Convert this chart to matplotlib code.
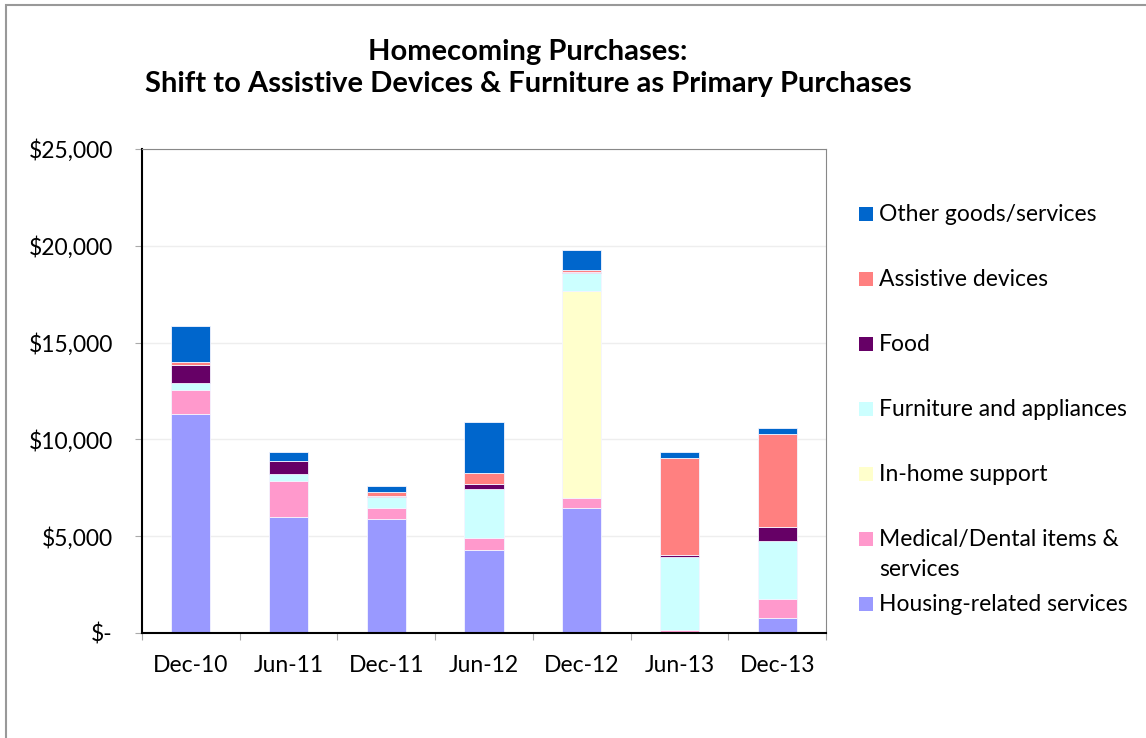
import numpy as np
import matplotlib
matplotlib.use('Agg')
from matplotlib import pyplot as plt
from matplotlib.patches import Rectangle
from matplotlib.ticker import FuncFormatter

plt.rcParams['font.family'] = ['Lato', 'DejaVu Sans']

# Data (USD)
periods = ['Dec-10', 'Jun-11', 'Dec-11', 'Jun-12', 'Dec-12', 'Jun-13', 'Dec-13']
housing = [11300, 6000, 5900, 4300, 6480, 0, 780]
medical = [1230, 1840, 570, 630, 500, 160, 965]
inhome = [0, 0, 0, 0, 10690, 0, 0]
furniture = [380, 360, 570, 2510, 915, 3790, 3000]
food = [930, 690, 30, 260, 70, 100, 720]
assistive = [150, 0, 200, 550, 120, 4990, 4820]
other = [1860, 460, 300, 2650, 1030, 330, 300]

series = [
    ('Housing-related services', housing, '#9999FF'),
    ('Medical/Dental items &\nservices', medical, '#FF99CC'),
    ('In-home support', inhome, '#FFFFCC'),
    ('Furniture and appliances', furniture, '#CCFFFF'),
    ('Food', food, '#660066'),
    ('Assistive devices', assistive, '#FF8080'),
    ('Other goods/services', other, '#0066CC'),
]

W, H = 1146, 738
fig = plt.figure(figsize=(W / 100, H / 100), dpi=100)
ax = fig.add_axes([0.1239, 0.1423, 0.5969, 0.6558])

# outer chart border (top and left visible)
fig.patches.append(Rectangle((6 / W, -0.1), 1.2, 1 - 5 / H + 0.1, transform=fig.transFigure,
                             fill=False, edgecolor='#999999', linewidth=1.5))

x = np.arange(len(periods))
bottom = np.zeros(len(periods))
for name, vals, col in series:
    vals = np.array(vals, dtype=float)
    ax.bar(x, vals, width=0.4, bottom=bottom, color=col, edgecolor='#f4f4ff', linewidth=0.6, label=name)
    bottom += vals

ax.set_xlim(-0.5, len(periods) - 0.5)
ax.set_ylim(0, 25000)
ax.set_yticks(np.arange(0, 25001, 5000))
ax.yaxis.set_major_formatter(FuncFormatter(lambda v, p: '$-' if v == 0 else f'${v:,.0f}'))
ax.grid(axis='y', color='#eeeeee', linewidth=1)
ax.set_axisbelow(True)

ax.set_xticks(np.arange(len(periods) + 1) - 0.5)
ax.set_xticklabels([])
ax.set_xticks(x, minor=True)
ax.set_xticklabels(periods, minor=True)
ax.tick_params(axis='x', which='major', length=5, color='#aaaaaa')
ax.tick_params(axis='x', which='minor', length=0, pad=16, labelsize=16.5)
ax.tick_params(axis='y', length=5, color='#aaaaaa', pad=16, labelsize=16.5)

for s in ['top', 'right']:
    ax.spines[s].set_color('#888888')
for s in ['left', 'bottom']:
    ax.spines[s].set_color('black')
    ax.spines[s].set_linewidth(1.5)

# legend drawn by hand so the two-line entry keeps the even row spacing
for i, (name, vals, col) in enumerate(series[::-1]):
    yc = 214 + 65 * i
    fig.patches.append(Rectangle((859 / W, 1 - (yc + 7) / H), 14 / W, 14 / H,
                                 transform=fig.transFigure, facecolor=col, edgecolor='none'))
    for j, line in enumerate(name.split('\n')):
        fig.text(879 / W, 1 - (yc + 7 + 30 * j) / H, line, ha='left', va='baseline', fontsize=16.5)

fig.text(0.4607, 0.908, 'Homecoming Purchases:\nShift to Assistive Devices & Furniture as Primary Purchases',
         ha='center', va='center', fontsize=21, fontweight='bold', linespacing=1.3)

fig.savefig('out.png', dpi=100)
